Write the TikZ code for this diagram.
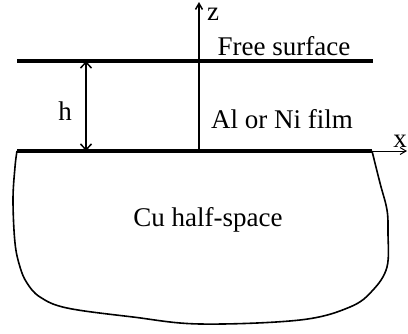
\documentclass[tikz,border=0pt]{standalone}
\usepackage{fontspec}
\setmainfont{Liberation Serif}
\usetikzlibrary{arrows.meta}

\begin{document}
\begin{tikzpicture}[
  x=1pt, y=-1pt,
  lbl/.style={anchor=base, inner sep=0pt, font=\fontsize{27}{32}\selectfont},
  layer/.style={line width=3.4pt},
  axis/.style={line width=1.5pt, -{Straight Barb[length=6pt, width=7pt]}},
  dim/.style={line width=1.5pt, {Straight Barb[length=6pt, width=11pt]}-{Straight Barb[length=6pt, width=11pt]}}]
  \useasboundingbox (0,0) rectangle (408,333);
  \coordinate (topL) at (17,61);
  \coordinate (topR) at (373,61);
  \coordinate (botL) at (17,151);
  \coordinate (botR) at (372,151);
  \coordinate (orig) at (199,151);
  \coordinate (ztip) at (199,2);
  \coordinate (xtip) at (407,151);
  \coordinate (hT) at (86,61);
  \coordinate (hB) at (86,151);
  % Cu substrate outline
  \draw[line width=1.6pt] plot[smooth, tension=0.6] coordinates {(botL) (15,167) (13,200) (15,243)
    (20,267) (27,283) (40,297) (67,308) (133,317) (200,324) (300,320) (350,307)
    (373,290) (387,267) (388,233) (387,210) (380,183) (botR)};
  % film surfaces and axes
  \draw[layer] (topL) -- (topR);
  \draw[layer] (botL) -- (botR);
  \draw[axis] (orig) -- (ztip);
  \draw[axis, line width=1pt] (botR) -- (xtip);
  \draw[dim] (hT) -- (hB);
  \node[lbl] (zlab) at (213,20) {z};
  \node[lbl] (xlab) at (400,147) {x};
  \node[lbl] (free) at (284,55) {Free surface};
  \node[lbl] (film) at (282,128) {Al or Ni film};
  \node[lbl] (hlab) at (65,120) {h};
  \node[lbl] (cu) at (208,226) {Cu half-space};
\end{tikzpicture}
\end{document}
